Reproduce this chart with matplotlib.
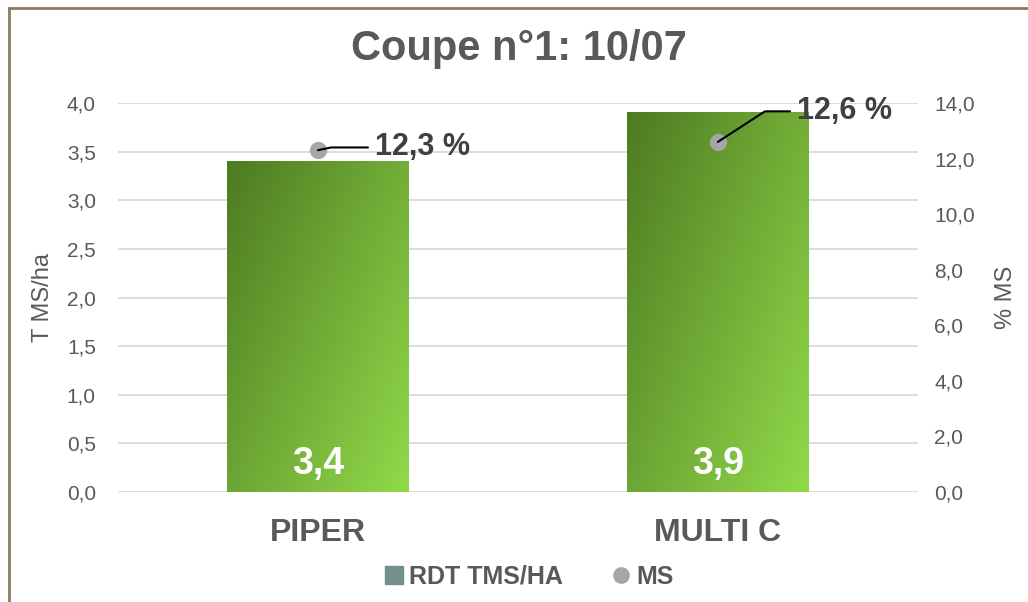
import numpy as np
import matplotlib
matplotlib.use("Agg")
import matplotlib.pyplot as plt
from matplotlib.lines import Line2D
from matplotlib.patches import Patch
from matplotlib.colors import LinearSegmentedColormap

plt.rcParams['font.family'] = ['Liberation Sans', 'DejaVu Sans']

varietes = ["PIPER", "MULTI C"]
rdt = [3.4, 3.9]
ms = [12.3, 12.6]
rdt_labels = ["3,4", "3,9"]
ms_labels = ["12,3 %", "12,6 %"]
left_ticks = [0.0, 0.5, 1.0, 1.5, 2.0, 2.5, 3.0, 3.5, 4.0]
right_ticks = [0.0, 2.0, 4.0, 6.0, 8.0, 10.0, 12.0, 14.0]

grey = "#595959"
fig = plt.figure(figsize=(10.28, 6.02), dpi=100)
ax = fig.add_axes([0.1148, 0.1827, 0.778, 0.6462])
ax2 = ax.twinx()

x = np.arange(len(varietes))
width = 0.455

# bars with a diagonal green gradient (dark top-left -> light bottom-right)
cmap = LinearSegmentedColormap.from_list("g", ["#4d7b22", "#92d94a"])
gy, gx = np.mgrid[0:1:100j, 0:1:100j]
grad = gx * 0.55 + gy * 0.45
bars = ax.bar(x, rdt, width, color="none", zorder=2)
for b in bars:
    x0, y0, w, h = b.get_x(), b.get_y(), b.get_width(), b.get_height()
    ax.imshow(grad, cmap=cmap, extent=[x0, x0 + w, y0, y0 + h], aspect="auto",
              origin="upper", zorder=2)
ax.set_xlim(-0.5, 1.5)
ax.set_ylim(0, 4.0)
ax2.set_ylim(0, 14.0)

for xi, lab in zip(x, rdt_labels):
    ax.text(xi, 0.29, lab, ha="center", va="center", color="white",
            fontsize=27, fontweight="bold", zorder=4)

ax.set_yticks(left_ticks)
ax.set_yticklabels([f"{t:.1f}".replace(".", ",") for t in left_ticks])
ax.grid(axis="y", color="#d9d9d9", lw=1.3, zorder=0)
ax.set_axisbelow(True)
ax.set_xticks(x)
ax.set_xticklabels(varietes, fontsize=23, fontweight="bold", color=grey)
ax.tick_params(axis="x", length=0, pad=19)
ax.tick_params(axis="y", length=0, labelsize=15, labelcolor=grey, pad=16)
ax.set_ylabel("T MS/ha", fontsize=17, color=grey, labelpad=9)
for s in ax.spines.values():
    s.set_visible(False)

ax2.scatter(x, ms, s=130, color="#a6a6a6", zorder=5)
ax2.set_yticks(right_ticks)
ax2.set_yticklabels([f"{t:.1f}".replace(".", ",") for t in right_ticks])
ax2.tick_params(axis="y", length=0, labelsize=15, labelcolor=grey, pad=12)
ax2.set_ylabel("% MS", fontsize=17, color=grey, labelpad=14)
for s in ax2.spines.values():
    s.set_visible(False)

offsets = [(41, 2), (57, 22)]
angles = [12, 33]
for xi, v, lab, off, ang in zip(x, ms, ms_labels, offsets, angles):
    ax2.annotate(lab, xy=(xi, v), xytext=off, textcoords="offset points",
                 fontsize=22, fontweight="bold", color="#404040",
                 ha="left", va="center",
                 arrowprops=dict(arrowstyle="-", color="black", lw=1.5,
                                 shrinkA=3, shrinkB=0,
                                 connectionstyle=f"angle,angleA=0,angleB={ang},rad=0"),
                 zorder=6)

fig.suptitle("Coupe n°1: 10/07", x=0.505, y=0.952, fontsize=30,
             fontweight="bold", color=grey)

handles = [Patch(color="#738f8c", label="RDT TMS/HA"),
           Line2D([], [], marker="o", ls="", color="#a6a6a6", markersize=11,
                  label="MS")]
fig.legend(handles=handles, loc="center", bbox_to_anchor=(0.515, 0.042), ncol=2,
           frameon=False, prop=dict(size=18, weight="bold"), labelcolor=grey,
           handlelength=0.7, handletextpad=0.25, columnspacing=2.0)

# chart frame
fig.add_artist(Line2D([0.0088, 1.0], [0.987, 0.987], color="#8a7d5e", lw=2,
                      transform=fig.transFigure))
fig.add_artist(Line2D([0.0088, 0.0088], [0.0, 0.987], color="#8a7d5e", lw=2,
                      transform=fig.transFigure))

fig.savefig("out.png", dpi=100)
